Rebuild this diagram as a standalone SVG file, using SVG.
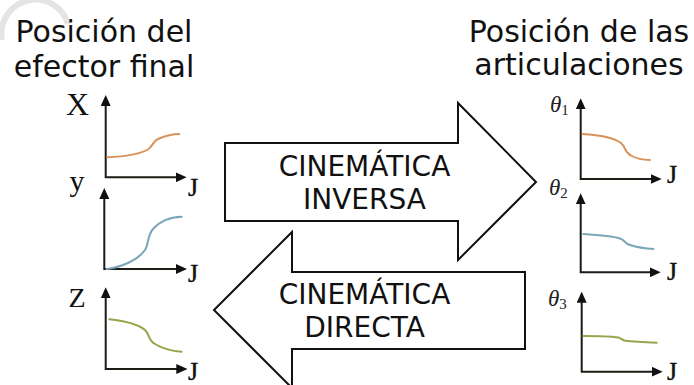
<svg xmlns="http://www.w3.org/2000/svg" width="694" height="385" viewBox="0 0 694 385">
  <style>
    .head { font-family: "DejaVu Sans", Verdana, sans-serif; font-size: 30px; fill: #111; text-anchor: middle; }
    .big { font-family: "DejaVu Sans", Verdana, sans-serif; font-size: 28px; fill: #111; text-anchor: middle; }
    .math { font-family: "Liberation Serif", "Times New Roman", serif; fill: #111; text-anchor: middle; }
    .theta { font-family: "Liberation Serif", "Times New Roman", serif; font-style: italic; font-size: 23px; fill: #222; }
    .sub { font-style: normal; font-size: 15px; }
    .tlab { font-family: "Liberation Serif", "Times New Roman", serif; font-size: 26px; fill: #111; stroke: #111; stroke-width: 0.4; }
    .axis { fill: none; stroke: #1c1c14; stroke-width: 2; marker-start: url(#tip); marker-end: url(#tip); }
    .curve { fill: none; stroke-width: 2; stroke-linecap: round; }
    .orange { stroke: #d8925a; }
    .blue { stroke: #7ba6b8; }
    .green { stroke: #93a64c; }
    .block { fill: #fff; stroke: #111; stroke-width: 2; stroke-linejoin: miter; }
  </style>
  <defs>
    <marker id="tip" markerUnits="userSpaceOnUse" markerWidth="11" markerHeight="10" refX="2" refY="5" orient="auto-start-reverse">
      <path d="M0,0 L11,5 L0,10 Z" fill="#111"/>
    </marker>
  </defs>

  <rect width="694" height="385" fill="#fff"/>

  <!-- faint background mark -->
  <path d="M2,40 A34,34 0 0 1 68,24" fill="none" stroke="#e4e4e4" stroke-width="6"/>

  <!-- headings -->
  <g id="heading-left">
    <text class="head" x="104" y="42">Posición del</text>
    <text class="head" x="104" y="76.5">efector final</text>
  </g>
  <g id="heading-right">
    <text class="head" x="579" y="42">Posición de las</text>
    <text class="head" x="579" y="75">articulaciones</text>
  </g>

  <!-- end-effector trajectories -->
  <g id="plot-x">
    <path class="axis" d="M105.7,104 V177.3 H177.7"/>
    <path class="curve orange" d="M107.3,157.3 C125,156.5 140,154 148,149.5 C153,146 153,141 158,139 C165,136 172,134 179.3,134"/>
    <text class="math" x="77.5" y="114.5" font-size="32">X</text>
    <text class="tlab" x="188" y="196">J</text>
  </g>
  <g id="plot-y">
    <path class="axis" d="M104.3,197 V269 H178"/>
    <path class="curve blue" d="M106.7,269 C122,267 138,260 145,250 C149,244 147,236 153,229 C160,221 170,217 181.7,216.7"/>
    <text class="math" x="77" y="191" font-size="30">y</text>
    <text class="tlab" x="188" y="282">J</text>
  </g>
  <g id="plot-z">
    <path class="axis" d="M105.7,296.3 V369 H178.3"/>
    <path class="curve green" d="M109.3,319.3 C125,321 138,324 145,330 C150,335 148,340 155,344 C163,349 172,351 181.7,351.7"/>
    <text class="math" x="77" y="307" font-size="28">Z</text>
    <text class="tlab" x="188" y="380">J</text>
  </g>

  <!-- joint trajectories -->
  <g id="plot-theta1">
    <path class="axis" d="M580.7,107.3 V179 H652.7"/>
    <path class="curve orange" d="M582.7,134 C600,135 614,138 621,143 C626,147 624,152 631,155.5 C637,159 643,160 650,160"/>
    <text class="theta" x="550" y="111.7">θ<tspan class="sub" dy="3">1</tspan></text>
    <text class="tlab" x="667" y="183">J</text>
  </g>
  <g id="plot-theta2">
    <path class="axis" d="M580.7,202.3 V272.3 H651.7"/>
    <path class="curve blue" d="M583.3,234 C600,235 612,236 620,238.5 C625,240 624,243 630,245 C638,247.5 645,248.5 653.3,249"/>
    <text class="theta" x="549" y="195">θ<tspan class="sub" dy="3">2</tspan></text>
    <text class="tlab" x="667" y="280">J</text>
  </g>
  <g id="plot-theta3">
    <path class="axis" d="M581.7,300.7 V371.7 H653.7"/>
    <path class="curve green" d="M583.3,336 C600,336 612,336.5 618.3,337.5 C622,338.5 622,340.5 627,341 C638,342 648,342.5 656.7,342.7"/>
    <text class="theta" x="548" y="305.5">θ<tspan class="sub" dy="3">3</tspan></text>
    <text class="tlab" x="667" y="380">J</text>
  </g>

  <!-- kinematics block arrows -->
  <g id="inverse-kinematics">
    <path class="block" d="M225,143 H458 V103 L536,182 L458,260 V221 H225 Z"/>
    <text class="big" x="364.5" y="176">CINEMÁTICA</text>
    <text class="big" x="364.5" y="209">INVERSA</text>
  </g>
  <g id="forward-kinematics">
    <path class="block" d="M525,272 H292 V232 L214,310 L292,388 V349 H525 Z"/>
    <text class="big" x="364.5" y="304">CINEMÁTICA</text>
    <text class="big" x="364.5" y="337">DIRECTA</text>
  </g>
</svg>
